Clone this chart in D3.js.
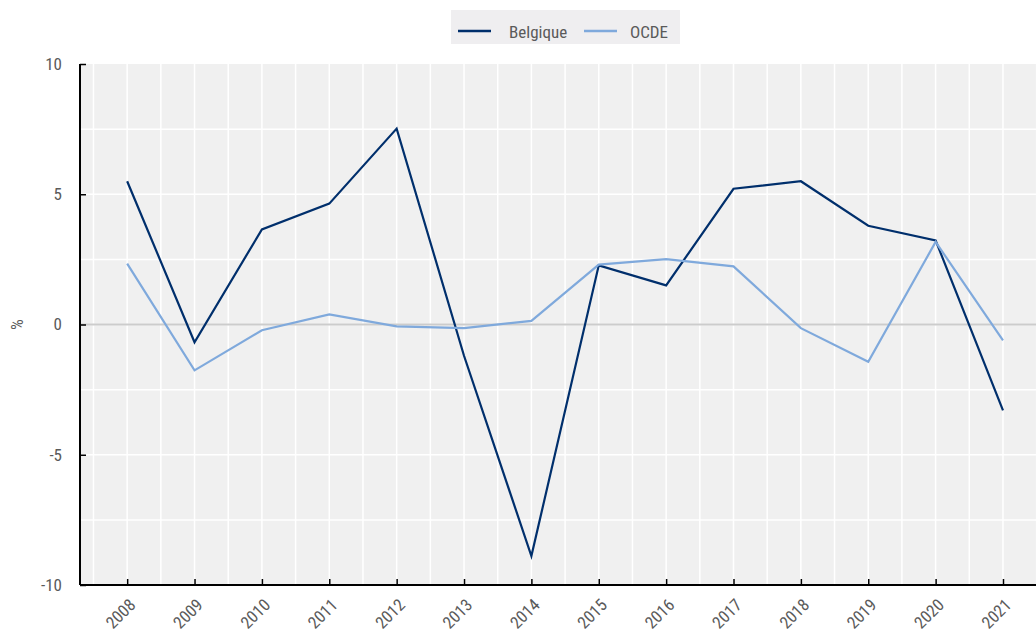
<!DOCTYPE html>
<html>
<head>
<meta charset="utf-8">
<script src="https://cdn.jsdelivr.net/npm/d3@7"></script>
<style>
  body { margin: 0; background: #fff; }
  text { font-family: "Liberation Sans Narrow", "Arial Narrow", "Roboto Condensed", sans-serif; fill: #5a5a5a; }
</style>
</head>
<body>
<div id="chart"></div>
<script>
// Belgique vs OCDE, % change 2008-2021
const years = [2008, 2009, 2010, 2011, 2012, 2013, 2014, 2015, 2016, 2017, 2018, 2019, 2020, 2021];
const belgique = [5.5, -0.68, 3.65, 4.64, 7.52, -1.2, -8.89, 2.27, 1.5, 5.21, 5.5, 3.79, 3.23, -3.3];
const ocde = [2.34, -1.76, -0.22, 0.39, -0.07, -0.14, 0.14, 2.3, 2.51, 2.23, -0.14, -1.43, 3.17, -0.61];
const yTicks = [-10, -5, 0, 5, 10];
const seriesNames = ["Belgique", "OCDE"];
const seriesColors = ["#002f6c", "#7fa9dc"];

const width = 1036, height = 636, margin = {top: 64, right: 0, bottom: 51, left: 80};
const fontSize = 17;

const svg = d3.select("#chart").append("svg").attr("width", width).attr("height", height);

const x = d3.scaleLinear().domain([2007.3, 2021.49]).range([margin.left, width - margin.right]);
const y = d3.scaleLinear().domain([-10, 10]).range([height - margin.bottom, margin.top]);

// plot background
svg.append("rect").attr("x", margin.left).attr("y", margin.top)
  .attr("width", width - margin.right - margin.left).attr("height", height - margin.bottom - margin.top)
  .attr("fill", "#f0f0f0");

// grid: every half year and every 2.5 units
const xGrid = d3.range(2007.5, 2021.6, 0.5);
svg.append("g").selectAll("line").data(xGrid).join("line")
  .attr("x1", d => x(d)).attr("x2", d => x(d))
  .attr("y1", margin.top).attr("y2", height - margin.bottom)
  .attr("stroke", "#fff").attr("stroke-width", 1.5);
const yGrid = d3.range(-7.5, 10, 2.5);
svg.append("g").selectAll("line").data(yGrid).join("line")
  .attr("x1", margin.left).attr("x2", width - margin.right)
  .attr("y1", d => y(d)).attr("y2", d => y(d))
  .attr("stroke", "#fff").attr("stroke-width", 1.5);

// zero line
svg.append("line").attr("x1", margin.left).attr("x2", width - margin.right)
  .attr("y1", y(0)).attr("y2", y(0)).attr("stroke", "#cccccc").attr("stroke-width", 2);

// axes
const yAxis = svg.append("g").attr("transform", `translate(${margin.left},0)`)
  .call(d3.axisRight(y).tickValues(yTicks).tickSize(6).tickFormat(d => String(d)));
yAxis.select(".domain").attr("stroke", "#000").attr("stroke-width", 2).attr("d", `M0,${margin.top}V${height - margin.bottom}`);
yAxis.selectAll(".tick line").attr("stroke", "#000").attr("stroke-width", 1.5);
yAxis.selectAll("text").attr("x", -18).attr("text-anchor", "end").attr("font-size", fontSize).attr("fill", "#5a5a5a");

const xAxis = svg.append("g").attr("transform", `translate(0,${height - margin.bottom})`)
  .call(d3.axisTop(x).tickValues(years).tickSize(6).tickFormat(d => String(d)));
xAxis.select(".domain").attr("stroke", "#000").attr("stroke-width", 2).attr("d", `M${margin.left},0H${width}`);
xAxis.selectAll(".tick line").attr("stroke", "#000").attr("stroke-width", 1.5);
xAxis.selectAll("text").attr("y", 0).attr("dy", 0)
  .attr("text-anchor", "end").attr("font-size", fontSize).attr("fill", "#5a5a5a")
  .attr("transform", "translate(9,21) rotate(-45)");

svg.append("text").attr("transform", `translate(23,${y(0)}) rotate(-90)`)
  .attr("text-anchor", "middle").attr("font-size", fontSize).text("%");

// lines
const series = [belgique, ocde];
const line = d3.line().x((d, i) => x(years[i])).y(d => y(d));
series.forEach((vals, k) => {
  svg.append("path").datum(vals).attr("fill", "none")
    .attr("stroke", seriesColors[k]).attr("stroke-width", 2.2).attr("d", line);
});

// legend
const legend = svg.append("g").attr("transform", "translate(451,10)");
legend.append("rect").attr("width", 229).attr("height", 34).attr("fill", "#efeef0");
const legendItems = [{x: 7, tx: 58}, {x: 133, tx: 179}];
legendItems.forEach((it, k) => {
  legend.append("line").attr("x1", it.x).attr("x2", it.x + 33).attr("y1", 21).attr("y2", 21)
    .attr("stroke", seriesColors[k]).attr("stroke-width", 2.5);
  legend.append("text").attr("x", it.tx).attr("y", 28).attr("font-size", fontSize).text(seriesNames[k]);
});
</script>
</body>
</html>
